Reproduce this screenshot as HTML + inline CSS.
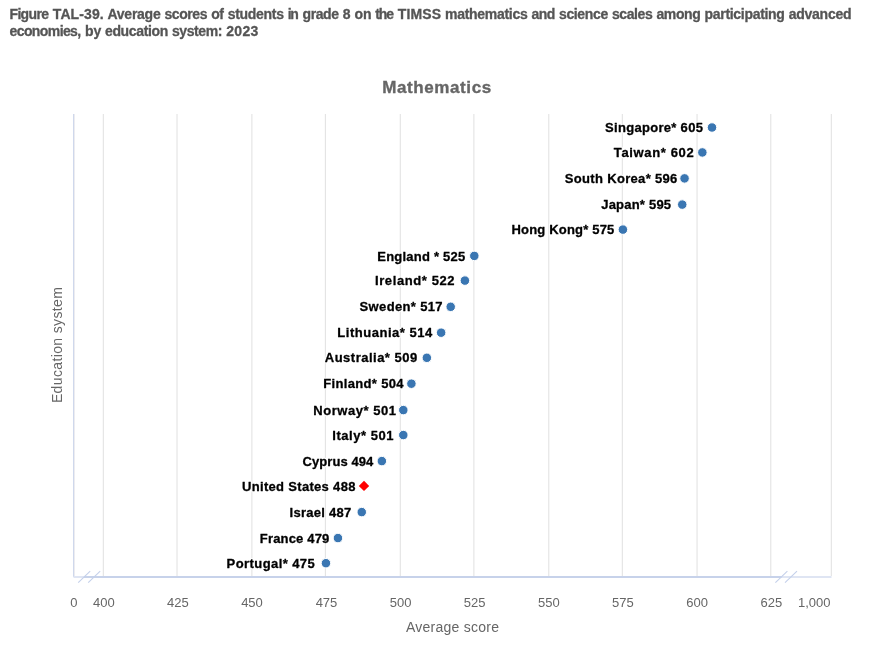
<!DOCTYPE html>
<html lang="en"><head><meta charset="utf-8"><title>Figure TAL-39</title>
<style>
html,body{margin:0;padding:0;background:#fff;}
svg{display:block;}
text{font-family:"Liberation Sans",Arial,sans-serif;}
.ttl{font-size:14px;font-weight:bold;fill:#555;stroke:#555;stroke-width:.3px;}
.ct{font-size:17px;font-weight:bold;fill:#666;stroke:#666;stroke-width:.35px;}
.ax{font-size:13px;fill:#666;text-anchor:middle;}
.at{font-size:14px;fill:#666;text-anchor:middle;}
.dl{font-size:13px;font-weight:bold;fill:#000;stroke:#000;stroke-width:.3px;stroke-linejoin:round;}
</style></head><body>
<svg width="879" height="664" viewBox="0 0 879 664">
<rect width="879" height="664" fill="#fff"/>
<text class="ttl" y="18.7"><tspan x="9.50" textLength="39.50" lengthAdjust="spacing">Figure</tspan> <tspan x="52.80" textLength="50.90" lengthAdjust="spacing">TAL-39.</tspan> <tspan x="107.50" textLength="53.20" lengthAdjust="spacing">Average</tspan> <tspan x="164.50" textLength="42.95" lengthAdjust="spacing">scores</tspan> <tspan x="211.25" textLength="12.70" lengthAdjust="spacing">of</tspan> <tspan x="227.75" textLength="56.20" lengthAdjust="spacing">students</tspan> <tspan x="287.75" textLength="10.95" lengthAdjust="spacing">in</tspan> <tspan x="302.50" textLength="36.45" lengthAdjust="spacing">grade</tspan> <tspan x="342.75" textLength="7.95" lengthAdjust="spacing">8</tspan> <tspan x="354.50" textLength="16.95" lengthAdjust="spacing">on</tspan> <tspan x="375.25" textLength="18.70" lengthAdjust="spacing">the</tspan> <tspan x="397.75" textLength="43.45" lengthAdjust="spacing">TIMSS</tspan> <tspan x="445.00" textLength="82.70" lengthAdjust="spacing">mathematics</tspan> <tspan x="531.50" textLength="23.70" lengthAdjust="spacing">and</tspan> <tspan x="559.00" textLength="49.20" lengthAdjust="spacing">science</tspan> <tspan x="612.00" textLength="40.70" lengthAdjust="spacing">scales</tspan> <tspan x="656.50" textLength="44.20" lengthAdjust="spacing">among</tspan> <tspan x="704.50" textLength="80.40" lengthAdjust="spacing">participating</tspan> <tspan x="788.70" textLength="62.80" lengthAdjust="spacing">advanced</tspan></text>
<text class="ttl" y="36.2"><tspan x="9.50" textLength="71.70" lengthAdjust="spacing">economies,</tspan> <tspan x="85.00" textLength="16.20" lengthAdjust="spacing">by</tspan> <tspan x="105.00" textLength="63.20" lengthAdjust="spacing">education</tspan> <tspan x="172.00" textLength="50.45" lengthAdjust="spacing">system:</tspan> <tspan x="226.25" textLength="32.05" lengthAdjust="spacing">2023</tspan></text>
<text class="ct" x="382.2" y="93" textLength="109" lengthAdjust="spacing">Mathematics</text>
<g stroke="#e0e0e0" stroke-width="1" fill="none">
<line x1="103.30" y1="114" x2="103.30" y2="576"/>
<line x1="177.00" y1="114" x2="177.00" y2="576"/>
<line x1="251.90" y1="114" x2="251.90" y2="576"/>
<line x1="325.35" y1="114" x2="325.35" y2="576"/>
<line x1="400.25" y1="114" x2="400.25" y2="576"/>
<line x1="473.90" y1="114" x2="473.90" y2="576"/>
<line x1="548.80" y1="114" x2="548.80" y2="576"/>
<line x1="622.30" y1="114" x2="622.30" y2="576"/>
<line x1="697.05" y1="114" x2="697.05" y2="576"/>
<line x1="770.80" y1="114" x2="770.80" y2="576"/>
<line x1="831.3" y1="114" x2="831.3" y2="576"/>
</g>
<rect x="73" y="114" width="1" height="463" fill="#cfd8ec"/>
<rect x="74" y="114" width="1" height="462" fill="#ececf0"/>
<rect x="73.5" y="576" width="758" height="2" fill="#dfe5f3"/>
<rect x="84" y="576" width="697.5" height="2" fill="#c7d2ea"/>
<g stroke="#c4d0ea" stroke-width="1.1" fill="none">
<line x1="78.2" y1="582.7" x2="90.2" y2="571.2"/>
<line x1="88.2" y1="582.7" x2="100.2" y2="571.2"/>
<line x1="775.4" y1="582.7" x2="787.4" y2="571.2"/>
<line x1="785.0" y1="582.7" x2="797.0" y2="571.2"/>
</g>
<g class="ax">
<text x="73.8" y="607.3">0</text>
<text x="103.9" y="607.3">400</text>
<text x="177.9" y="607.3">425</text>
<text x="252.0" y="607.3">450</text>
<text x="326.5" y="607.3">475</text>
<text x="400.6" y="607.3">500</text>
<text x="474.6" y="607.3">525</text>
<text x="548.8" y="607.3">550</text>
<text x="622.9" y="607.3">575</text>
<text x="697.1" y="607.3">600</text>
<text x="771.4" y="607.3">625</text>
<text x="814.2" y="607.3">1,000</text>
</g>
<text class="at" x="452.5" y="632.3" textLength="93.2" lengthAdjust="spacing">Average score</text>
<text class="at" transform="translate(61.6,345.1) rotate(-90)" textLength="116" lengthAdjust="spacing">Education system</text>
<g>
<circle cx="712.0" cy="127.5" r="4.75" fill="#3a76b2" stroke="#fff" stroke-width="1"/>
<circle cx="702.35" cy="152.45" r="4.75" fill="#3a76b2" stroke="#fff" stroke-width="1"/>
<circle cx="684.55" cy="178.4" r="4.75" fill="#3a76b2" stroke="#fff" stroke-width="1"/>
<circle cx="682.25" cy="204.6" r="4.75" fill="#3a76b2" stroke="#fff" stroke-width="1"/>
<circle cx="622.9" cy="229.6" r="4.75" fill="#3a76b2" stroke="#fff" stroke-width="1"/>
<circle cx="474.3" cy="255.9" r="4.75" fill="#3a76b2" stroke="#fff" stroke-width="1"/>
<circle cx="464.9" cy="280.6" r="4.75" fill="#3a76b2" stroke="#fff" stroke-width="1"/>
<circle cx="450.7" cy="306.8" r="4.75" fill="#3a76b2" stroke="#fff" stroke-width="1"/>
<circle cx="441.15" cy="332.7" r="4.75" fill="#3a76b2" stroke="#fff" stroke-width="1"/>
<circle cx="426.85" cy="357.8" r="4.75" fill="#3a76b2" stroke="#fff" stroke-width="1"/>
<circle cx="411.4" cy="383.7" r="4.75" fill="#3a76b2" stroke="#fff" stroke-width="1"/>
<circle cx="403.3" cy="410.1" r="4.75" fill="#3a76b2" stroke="#fff" stroke-width="1"/>
<circle cx="403.3" cy="435.05" r="4.75" fill="#3a76b2" stroke="#fff" stroke-width="1"/>
<circle cx="381.85" cy="461.1" r="4.75" fill="#3a76b2" stroke="#fff" stroke-width="1"/>
<path d="M364.0 480.7L369.2 485.9L364.0 491.09999999999997L358.8 485.9Z" fill="#ff0000"/>
<circle cx="361.75" cy="512.1" r="4.75" fill="#3a76b2" stroke="#fff" stroke-width="1"/>
<circle cx="337.95" cy="538.05" r="4.75" fill="#3a76b2" stroke="#fff" stroke-width="1"/>
<circle cx="325.95" cy="563.2" r="4.75" fill="#3a76b2" stroke="#fff" stroke-width="1"/>
</g>
<defs><filter id="halo" filterUnits="userSpaceOnUse" x="200" y="110" width="520" height="470" color-interpolation-filters="sRGB"><feMorphology in="SourceAlpha" operator="dilate" radius="1.1" result="d"/><feFlood flood-color="#fff" result="w"/><feComposite in="w" in2="d" operator="in" result="h"/><feMerge><feMergeNode in="h"/><feMergeNode in="SourceGraphic"/></feMerge></filter></defs>
<g class="dl" filter="url(#halo)">
<text x="605.1" y="132.10" textLength="97.8" lengthAdjust="spacing">Singapore* 605</text>
<text x="613.8" y="157.05" textLength="79.9" lengthAdjust="spacing">Taiwan* 602</text>
<text x="564.8" y="183.00" textLength="112.5" lengthAdjust="spacing">South Korea* 596</text>
<text x="601.2" y="209.20" textLength="69.9" lengthAdjust="spacing">Japan* 595</text>
<text x="511.5" y="234.20" textLength="102.8" lengthAdjust="spacing">Hong Kong* 575</text>
<text x="377.3" y="260.50" textLength="87.9" lengthAdjust="spacing">England * 525</text>
<text x="375.0" y="285.20" textLength="79.5" lengthAdjust="spacing">Ireland* 522</text>
<text x="359.6" y="311.40" textLength="82.9" lengthAdjust="spacing">Sweden* 517</text>
<text x="337.3" y="337.30" textLength="95.0" lengthAdjust="spacing">Lithuania* 514</text>
<text x="324.8" y="362.40" textLength="92.4" lengthAdjust="spacing">Australia* 509</text>
<text x="323.2" y="388.30" textLength="80.4" lengthAdjust="spacing">Finland* 504</text>
<text x="313.2" y="414.70" textLength="82.9" lengthAdjust="spacing">Norway* 501</text>
<text x="332.3" y="439.65" textLength="61.1" lengthAdjust="spacing">Italy* 501</text>
<text x="302.5" y="465.70" textLength="70.7" lengthAdjust="spacing">Cyprus 494</text>
<text x="242.0" y="490.50" textLength="113.4" lengthAdjust="spacing">United States 488</text>
<text x="289.6" y="516.70" textLength="61.7" lengthAdjust="spacing">Israel 487</text>
<text x="259.8" y="542.65" textLength="69.5" lengthAdjust="spacing">France 479</text>
<text x="226.6" y="567.80" textLength="88.1" lengthAdjust="spacing">Portugal* 475</text>
</g>
</svg>
</body></html>
